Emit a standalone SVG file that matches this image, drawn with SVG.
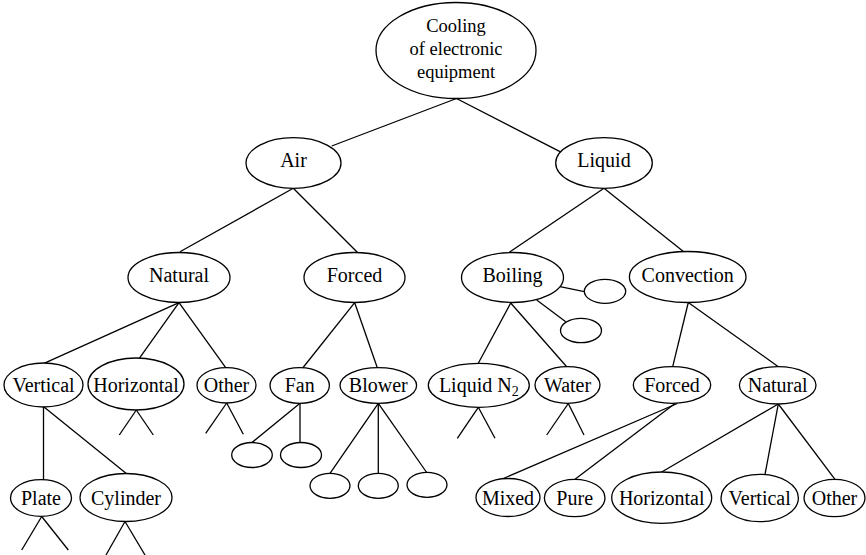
<svg xmlns="http://www.w3.org/2000/svg" width="866" height="555" viewBox="0 0 866 555">
<style>
ellipse{fill:#fff;stroke:#000;stroke-width:1.3}
line{stroke:#000;stroke-width:1.3}
text{font-family:"Liberation Serif","Times New Roman",serif;font-size:20px;fill:#000;text-anchor:middle}
.root{font-size:18.5px}
</style>
<rect width="866" height="555" fill="#fff"/>
<g id="connectors">
<line x1="456.5" y1="98.5" x2="331.7" y2="146"/>
<line x1="456.5" y1="98.5" x2="560" y2="151.7"/>
<line x1="293.3" y1="188.3" x2="180" y2="251.7"/>
<line x1="293.3" y1="188.3" x2="357.3" y2="252.3"/>
<line x1="604" y1="188.3" x2="509.3" y2="252.3"/>
<line x1="604" y1="188.3" x2="684.3" y2="252.3"/>
<line x1="179" y1="302.7" x2="44" y2="363.3"/>
<line x1="179" y1="302.7" x2="139.3" y2="358.3"/>
<line x1="179" y1="302.7" x2="225.7" y2="367.7"/>
<line x1="43.5" y1="407" x2="43.5" y2="480"/>
<line x1="44" y1="407" x2="126" y2="473.3"/>
<line x1="136.3" y1="410" x2="119.3" y2="435"/>
<line x1="136.3" y1="410" x2="153.3" y2="435"/>
<line x1="226.7" y1="403" x2="205.7" y2="433.3"/>
<line x1="226.7" y1="403" x2="243.3" y2="434.3"/>
<line x1="354.7" y1="302.7" x2="302.7" y2="368"/>
<line x1="354.7" y1="302.7" x2="377.3" y2="367.7"/>
<line x1="300" y1="403.3" x2="251.7" y2="442.7"/>
<line x1="300" y1="403.3" x2="300" y2="442.5"/>
<line x1="378.3" y1="403.3" x2="330" y2="473.3"/>
<line x1="378.3" y1="403.3" x2="378.3" y2="473.3"/>
<line x1="378.3" y1="403.3" x2="426.7" y2="472.5"/>
<line x1="560" y1="286.7" x2="584.3" y2="291.7"/>
<line x1="536.7" y1="300" x2="565.7" y2="321.7"/>
<line x1="510.7" y1="303" x2="478.3" y2="363.3"/>
<line x1="510.7" y1="303" x2="566.7" y2="366.7"/>
<line x1="478.3" y1="407.3" x2="457.3" y2="438.3"/>
<line x1="478.3" y1="407.3" x2="495" y2="438.3"/>
<line x1="568.3" y1="403.5" x2="546.7" y2="435"/>
<line x1="568.3" y1="403.5" x2="584" y2="435"/>
<line x1="688.3" y1="302.5" x2="672.7" y2="366.7"/>
<line x1="688.3" y1="302.5" x2="778.3" y2="366.7"/>
<line x1="677.3" y1="403.5" x2="503.3" y2="478.5"/>
<line x1="675" y1="403.5" x2="575" y2="479.3"/>
<line x1="778.3" y1="404" x2="661.7" y2="472"/>
<line x1="778.3" y1="404" x2="765" y2="474.3"/>
<line x1="778.3" y1="404" x2="835" y2="479.3"/>
<line x1="41.7" y1="516.5" x2="21.7" y2="550"/>
<line x1="41.7" y1="516.5" x2="68.3" y2="550"/>
<line x1="125" y1="521.5" x2="106" y2="555"/>
<line x1="125" y1="521.5" x2="145" y2="555"/>
</g>
<g id="root"><ellipse cx="456" cy="50.5" rx="80" ry="48"/>
<text class="root" x="456" y="31.5">Cooling</text>
<text class="root" x="456" y="54.5">of electronic</text>
<text class="root" x="456" y="77.5">equipment</text></g>
<g id="air"><ellipse cx="293.5" cy="163" rx="47.5" ry="25.3"/><text x="293.5" y="167">Air</text></g>
<g id="liquid"><ellipse cx="604" cy="163" rx="48.3" ry="25.3"/><text x="604" y="167">Liquid</text></g>
<g id="natural"><ellipse cx="179" cy="277.5" rx="51" ry="25"/><text x="179" y="282">Natural</text></g>
<g id="forced"><ellipse cx="354.5" cy="277.5" rx="50.5" ry="25"/><text x="354.5" y="282">Forced</text></g>
<g id="boiling"><ellipse cx="512.5" cy="277.5" rx="51" ry="25"/><text x="512.5" y="282">Boiling</text></g>
<g id="convection"><ellipse cx="687.7" cy="277" rx="58.3" ry="25.5"/><text x="687.7" y="282">Convection</text></g>
<g id="boil-blank1"><ellipse cx="605" cy="291.3" rx="20.7" ry="12"/></g>
<g id="boil-blank2"><ellipse cx="581" cy="330.5" rx="20.5" ry="12.2"/></g>
<g id="vertical"><ellipse cx="43.5" cy="385" rx="39.5" ry="22"/><text x="43.5" y="391.5">Vertical</text></g>
<g id="horizontal"><ellipse cx="136" cy="384" rx="48" ry="26"/><text x="136" y="391.5">Horizontal</text></g>
<g id="other"><ellipse cx="226.5" cy="385.3" rx="29.5" ry="17.7"/><text x="226.5" y="391.5">Other</text></g>
<g id="fan"><ellipse cx="299.7" cy="385.5" rx="29.7" ry="17.8"/><text x="299.7" y="391.5">Fan</text></g>
<g id="blower"><ellipse cx="378.3" cy="385.5" rx="38.3" ry="17.8"/><text x="378.3" y="391.5">Blower</text></g>
<g id="liquid-n2"><ellipse cx="478.8" cy="385.3" rx="50.5" ry="22"/><text x="478.8" y="391.5">Liquid N<tspan font-size="14" dy="4">2</tspan></text></g>
<g id="water"><ellipse cx="567.5" cy="385" rx="32.5" ry="18.3"/><text x="567.5" y="391.5">Water</text></g>
<g id="conv-forced"><ellipse cx="672" cy="385" rx="38.7" ry="18.3"/><text x="672" y="391.5">Forced</text></g>
<g id="conv-natural"><ellipse cx="777.7" cy="385.3" rx="38.3" ry="18.7"/><text x="777.7" y="391.5">Natural</text></g>
<g id="fan-blank1"><ellipse cx="252" cy="455" rx="20.3" ry="12.5"/></g>
<g id="fan-blank2"><ellipse cx="301" cy="455" rx="20.5" ry="12.5"/></g>
<g id="blower-blank1"><ellipse cx="330" cy="485.8" rx="20" ry="12.5"/></g>
<g id="blower-blank2"><ellipse cx="378.3" cy="485.8" rx="20" ry="12.5"/></g>
<g id="blower-blank3"><ellipse cx="427" cy="484.8" rx="20" ry="12.5"/></g>
<g id="plate"><ellipse cx="41" cy="498" rx="30.5" ry="18.3"/><text x="41" y="504.5">Plate</text></g>
<g id="cylinder"><ellipse cx="126" cy="497.5" rx="46" ry="24"/><text x="126" y="504.5">Cylinder</text></g>
<g id="mixed"><ellipse cx="508" cy="497.5" rx="32" ry="19"/><text x="508" y="504.5">Mixed</text></g>
<g id="pure"><ellipse cx="574.7" cy="498" rx="30.3" ry="18.7"/><text x="574.7" y="504.5">Pure</text></g>
<g id="conv-horizontal"><ellipse cx="661.7" cy="497.7" rx="50" ry="25.7"/><text x="661.7" y="504.5">Horizontal</text></g>
<g id="conv-vertical"><ellipse cx="759.7" cy="498" rx="38.7" ry="23.7"/><text x="759.7" y="504.5">Vertical</text></g>
<g id="conv-other"><ellipse cx="834.5" cy="498" rx="30.5" ry="18.7"/><text x="834.5" y="504.5">Other</text></g>
</svg>
